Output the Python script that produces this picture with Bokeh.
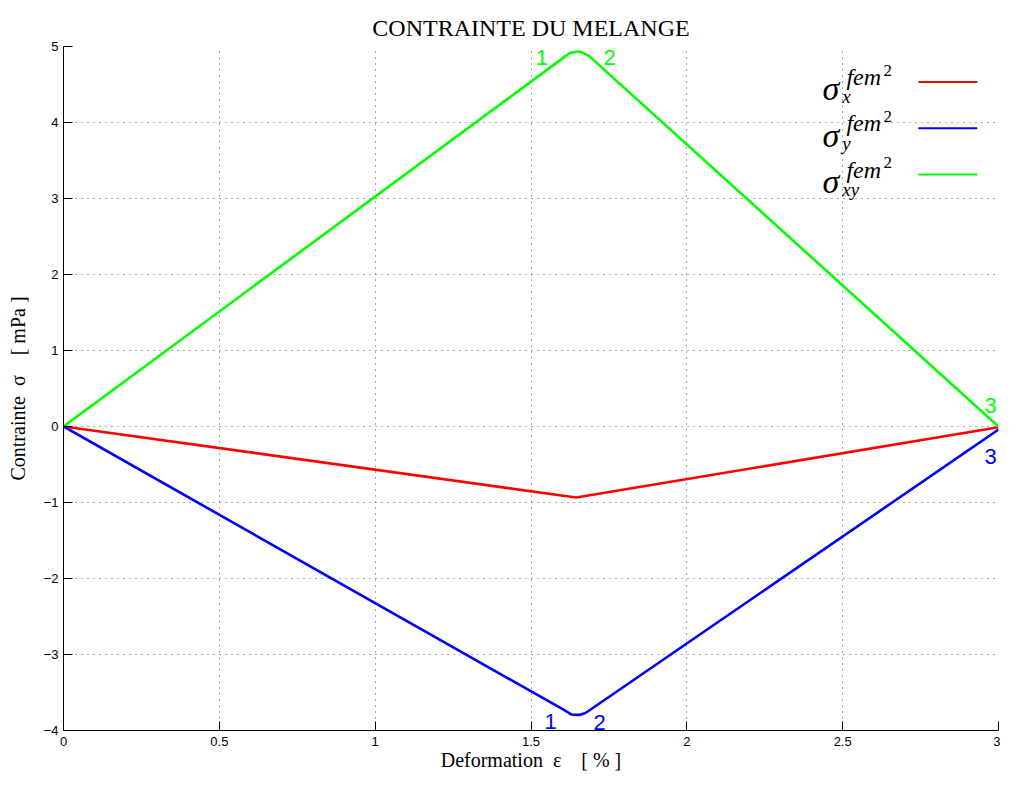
from bokeh.plotting import figure
from bokeh.models import FixedTicker, Range1d, Label
from bokeh.core.properties import value
from bokeh.embed import file_html
from bokeh.resources import INLINE

# ---- data ----
x_sx = [0.0, 1.645, 3.0]
y_sx = [0.0, -0.935, -0.01]

x_sy = [0.0, 1.61, 1.63, 1.655, 1.675, 3.0]
y_sy = [0.0, -3.74, -3.79, -3.795, -3.77, -0.04]

x_sxy = [0.0, 1.60, 1.625, 1.645, 1.66, 1.685, 3.0]
y_sxy = [0.0, 4.84, 4.915, 4.93, 4.93, 4.88, 0.0]

x_ticks = [0, 0.5, 1, 1.5, 2, 2.5, 3]
x_tick_labels = ["0", "0.5", "1", "1.5", "2", "2.5", "3"]
y_ticks = [-4, -3, -2, -1, 0, 1, 2, 3, 4, 5]
y_tick_labels = ["\u22124", "\u22123", "\u22122", "\u22121", "0", "1", "2", "3", "4", "5"]

# point markers "1", "2", "3"
green_num_text = ["1", "2", "3"]
green_num_x = [1.535, 1.752, 2.975]
green_num_y = [4.86, 4.86, 0.27]
blue_num_text = ["1", "2", "3"]
blue_num_x = [1.563, 1.72, 2.975]
blue_num_y = [-3.88, -3.89, -0.39]

# legend
leg_subs = ["x", "y", "xy"]
leg_colors = ["#ff0000", "#0000ff", "#00ff00"]
leg_base = [4.443, 3.834, 3.225]

RED, BLUE, GREEN = "#ff0000", "#0000ff", "#00ff00"

p = figure(width=1000, height=773, output_backend="svg", toolbar_location=None,
           x_range=Range1d(0, 3), y_range=Range1d(-4, 5),
           min_border_left=63, min_border_right=2, min_border_top=46, min_border_bottom=41,
           title="CONTRAINTE DU MELANGE")
p.background_fill_color = "white"
p.border_fill_color = "white"
p.outline_line_color = None

p.title.text_font = "Liberation Serif"
p.title.text_font_size = "24px"
p.title.text_font_style = "normal"
p.title.align = "center"
p.title.vertical_align = "middle"
p.title.text_color = "black"
p.title.standoff = 10

p.xaxis.ticker = FixedTicker(ticks=x_ticks)
p.yaxis.ticker = FixedTicker(ticks=y_ticks)
p.xaxis.major_label_overrides = {t: l for t, l in zip(x_ticks, x_tick_labels)}
p.yaxis.major_label_overrides = {t: l for t, l in zip(y_ticks, y_tick_labels)}

for ax in (p.xaxis, p.yaxis):
    ax.major_tick_in = 9
    ax.major_tick_out = 0
    ax.minor_tick_in = 0
    ax.minor_tick_out = 0
    ax.axis_line_color = "black"
    ax.major_tick_line_color = "black"
    ax.major_label_text_font = "Liberation Sans"
    ax.major_label_text_font_size = "13px"
    ax.major_label_text_color = "black"
    ax.axis_label_text_font = "Liberation Serif"
    ax.axis_label_text_font_size = "20px"
    ax.axis_label_text_font_style = "normal"
    ax.axis_label_text_color = "black"

p.xaxis.major_label_standoff = 6
p.yaxis.major_label_standoff = 5
p.xaxis.axis_label = "Deformation\u00a0\u00a0\u03b5\u00a0\u00a0\u00a0\u00a0[ % ]"
p.yaxis.axis_label = "Contrainte\u00a0\u00a0\u03c3\u00a0\u00a0\u00a0\u00a0[ mPa ]"
p.xaxis.axis_label_standoff = 0
p.yaxis.axis_label_standoff = 12

for g in (p.xgrid, p.ygrid):
    g.grid_line_color = "#444444"
    g.grid_line_dash = "1 5"
    g.grid_line_width = 1
    g.grid_line_alpha = 0.9

p.line(x_sx, y_sx, line_color=RED, line_width=2.6)
p.line(x_sy, y_sy, line_color=BLUE, line_width=2.6)
p.line(x_sxy, y_sxy, line_color=GREEN, line_width=2.6)

p.text(x=green_num_x, y=green_num_y, text=green_num_text, text_color=GREEN,
       text_font=value("Liberation Sans"), text_font_size="22px",
       text_align="center", text_baseline="alphabetic")
p.text(x=blue_num_x, y=blue_num_y, text=blue_num_text, text_color=BLUE,
       text_font=value("Liberation Sans"), text_font_size="22px",
       text_align="center", text_baseline="alphabetic")

# legend (math-like labels)
for sub, col, b in zip(leg_subs, leg_colors, leg_base):
    p.add_layout(Label(x=2.435, y=b, text="\u03c3", text_font="Liberation Serif",
                       text_font_style="italic", text_font_size="34px",
                       text_baseline="alphabetic", text_color="black"))
    p.add_layout(Label(x=2.512, y=b + 0.155, text="fem", text_font="Liberation Serif",
                       text_font_style="italic", text_font_size="24px",
                       text_baseline="alphabetic", text_color="black"))
    p.add_layout(Label(x=2.631, y=b + 0.246, text="2", text_font="Liberation Serif",
                       text_font_size="17px", text_baseline="alphabetic", text_color="black"))
    p.add_layout(Label(x=2.499, y=b - 0.104, text=sub, text_font="Liberation Serif",
                       text_font_style="italic", text_font_size="19px",
                       text_baseline="alphabetic", text_color="black"))
    p.segment(x0=[2.743], y0=[b + 0.091], x1=[2.932], y1=[b + 0.091],
              line_color=col, line_width=2)

open("out.html", "w").write(file_html(p, INLINE))
